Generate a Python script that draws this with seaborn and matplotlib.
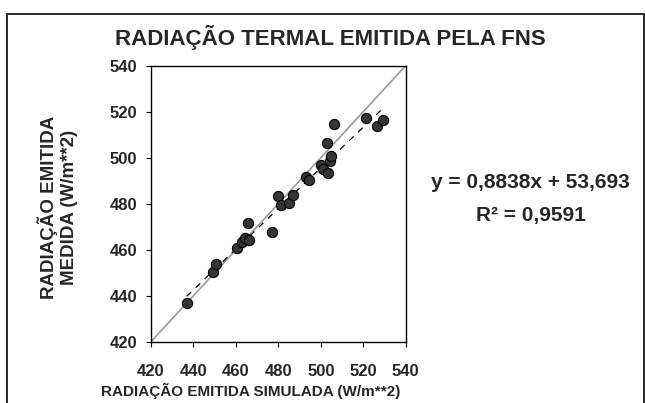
import numpy as np
import pandas as pd
import matplotlib
matplotlib.use("Agg")
import matplotlib.pyplot as plt
from matplotlib import font_manager
import seaborn as sns
from matplotlib.patches import Rectangle

# ---- data ----
simulada = [436.8, 449.4, 450.8, 460.5, 462.8, 464.5, 466.1, 465.9, 477.2,
            479.8, 481.1, 485.1, 487.1, 492.9, 494.5, 500.3, 501.1, 503.5,
            503.0, 504.4, 504.9, 506.3, 521.5, 526.7, 529.4]
medida = [437.0, 450.1, 454.0, 460.8, 463.4, 465.0, 464.2, 471.5, 467.8,
          483.3, 479.4, 480.1, 484.0, 491.5, 490.2, 496.8, 495.0, 493.4,
          506.5, 498.4, 500.6, 514.6, 517.1, 513.9, 516.4]
slope = 0.8838
intercept = 53.693
r2 = 0.9591
ticks = [420, 440, 460, 480, 500, 520, 540]

title = "RADIAÇÃO TERMAL EMITIDA PELA FNS"
xlabel = "RADIAÇÃO EMITIDA SIMULADA (W/m**2)"
ylabel = "RADIAÇÃO EMITIDA\nMEDIDA (W/m**2)"
eq_text = "y = 0,8838x + 53,693"
r2_text = "R² = 0,9591"

sns.set_style("ticks")
plt.rcParams['font.family'] = ['Liberation Sans', 'DejaVu Sans']
plt.rcParams['font.weight'] = 'bold'

installed = {f.name for f in font_manager.fontManager.ttflist}
if 'Liberation Sans Narrow' in installed:
    title_family = ['Liberation Sans Narrow', 'Liberation Sans']
    title_size = 19.5
else:
    title_family = ['Liberation Sans', 'DejaVu Sans']
    title_size = 16

df = pd.DataFrame({"simulada": simulada, "medida": medida})

fig = plt.figure(figsize=(6.45, 4.03), dpi=100)
ax = fig.add_axes([151/645, 1-341.7/403, (405.7-151)/645, (341.7-65.7)/403])

# 1:1 line
ax.axline((ticks[0], ticks[0]), slope=1, color='#9a9a9a', lw=1.2, zorder=1)
# trend line
xf = np.array([min(simulada), max(simulada)])
yf = slope * xf + intercept
sns.lineplot(x=xf, y=yf, ax=ax, color='black', lw=0.9, zorder=2)
ax.lines[-1].set_dashes([5, 5])

sns.scatterplot(data=df, x="simulada", y="medida", ax=ax, s=54,
                color='#353535', edgecolor='black', linewidth=0.8, zorder=3)

ax.set_xlim(ticks[0], ticks[-1])
ax.set_ylim(ticks[0], ticks[-1])
ax.set_xticks(ticks)
ax.set_yticks(ticks)
ax.set_xticklabels([str(t) for t in ticks], fontsize=12, fontweight='bold')
ax.set_yticklabels([str(t) for t in ticks], fontsize=12, fontweight='bold')
ax.tick_params(axis='both', direction='out', length=3.6, width=0.8, color='black')
ax.tick_params(axis='x', pad=12.5)
ax.tick_params(axis='y', pad=6.5)
ax.set_xlabel("")
ax.set_ylabel("")
for sp in ax.spines.values():
    sp.set_visible(True)
    sp.set_color('black')
    sp.set_linewidth(1.0)

fig.text(330/645, 1-37/403, title, ha='center', va='center',
         fontsize=title_size, fontweight='bold', family=title_family)
fig.text(251/645, 1-391/403, xlabel, ha='center', va='center',
         fontsize=11, fontweight='bold')
fig.text(58/645, 1-207/403, ylabel, ha='center', va='center', rotation=90,
         fontsize=13.5, fontweight='bold', linespacing=1.25, multialignment='center')
fig.text(530/645, 1-182/403, eq_text, ha='center', va='center',
         fontsize=15, fontweight='bold')
fig.text(531/645, 1-216/403, r2_text, ha='center', va='center',
         fontsize=15, fontweight='bold')

# outer chart border
fig.patches.append(Rectangle((7/645, -0.05), (644-7)/645, 1.05-14/403,
                             transform=fig.transFigure, fill=False,
                             edgecolor='#2a2a2a', lw=1.4))

fig.savefig("out.png", dpi=100)
